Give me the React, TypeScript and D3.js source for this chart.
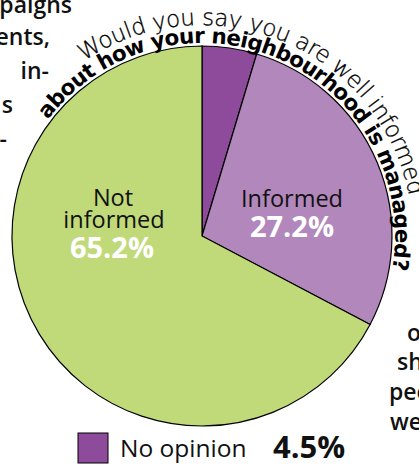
import React from "react";
import * as d3 from "d3";

const categories = ["No opinion", "Informed", "Not informed"];
const values = [4.5, 27.2, 65.2];
const colors = ["#8e4a9b", "#b187bc", "#c0da7a"];
const titleLine1 = "Would you say you are well informed";
const titleLine2 = "about how your neighbourhood is managed?";
const leftFragments = ["paigns", "ents,", "in-", "s", "-"];
const rightFragments = ["o", "sh", "peo", "wer"];

const W = 419;
const H = 466;
const cx = 202;
const cy = 236;
const R = 190;

function arcPath(r: number, a0: number, a1: number) {
  const rad = (d: number) => (d * Math.PI) / 180;
  const x0 = cx + r * Math.sin(rad(a0));
  const y0 = cy - r * Math.cos(rad(a0));
  const x1 = cx + r * Math.sin(rad(a1));
  const y1 = cy - r * Math.cos(rad(a1));
  const large = a1 - a0 > 180 ? 1 : 0;
  return `M${x0},${y0} A${r},${r} 0 ${large} 1 ${x1},${y1}`;
}

export default function App() {
  const pie = d3.pie<number>().sort(null).value((d) => d);
  const arcs = pie(values);
  const arc = d3.arc<d3.PieArcDatum<number>>().innerRadius(0).outerRadius(R);

  const leftEnds = [72, 50, 49, 13, 7];
  const leftBase = [13, 45, 79, 113, 147];
  const rightStarts = [407, 397, 389, 390];
  const rightBase = [341, 370, 400, 430];

  const bR = 193, bA0 = -53, bA1 = 100;
  const tR = 211, tA0 = -34, tA1 = 79;
  const bLen = (bR * (bA1 - bA0) * Math.PI) / 180;
  const tLen = (tR * (tA1 - tA0) * Math.PI) / 180;

  return (
    <svg
      width={W}
      height={H}
      style={{ position: "absolute", left: 0, top: 0, background: "#fff" }}
      fontFamily="'Open Sans', sans-serif"
    >
      <defs>
        <path id="bArc" d={arcPath(bR, bA0, bA1 + 20)} />
        <path id="tArc" d={arcPath(tR, tA0, tA1 + 20)} />
      </defs>
      {leftFragments.map((t, i) => (
        <text key={"l" + i} x={leftEnds[i]} y={leftBase[i]} textAnchor="end" fontSize={23} fontWeight={600} fill="#111">
          {t}
        </text>
      ))}
      {rightFragments.map((t, i) => (
        <text key={"r" + i} x={rightStarts[i]} y={rightBase[i]} fontSize={23} fontWeight={600} fill="#111">
          {t}
        </text>
      ))}
      <g transform={`translate(${cx},${cy})`}>
        {arcs.map((a, i) => (
          <path key={i} d={arc(a) || ""} fill={colors[i]} stroke="#000" strokeWidth={1.2} />
        ))}
      </g>
      <text fontFamily="'DejaVu Sans', sans-serif" fontSize={23} fontWeight={200} fill="#000" stroke="#000" strokeWidth={0.3}>
        <textPath href="#tArc" textLength={tLen} lengthAdjust="spacing">
          {titleLine1}
        </textPath>
      </text>
      <text fontFamily="'DejaVu Sans', sans-serif" fontSize={21.5} fontWeight={700} fill="#000">
        <textPath href="#bArc" textLength={bLen} lengthAdjust="spacing">
          {titleLine2}
        </textPath>
      </text>
      <g fontSize={23.5} fill="#111" textAnchor="middle">
        <text x={113} y={206}>Not</text>
        <text x={114} y={228}>informed</text>
        <text x={292} y={207}>Informed</text>
      </g>
      <g fontSize={29} fontWeight={700} fill="#fff" textAnchor="middle">
        <text x={112} y={258}>{values[2].toFixed(1) + "%"}</text>
        <text x={292} y={237}>{values[1].toFixed(1) + "%"}</text>
      </g>
      <rect x={78} y={433} width={30} height={30} fill={colors[0]} stroke="#000" strokeWidth={1} />
      <text x={120} y={457} fontSize={24.5} fill="#111">{categories[0]}</text>
      <text x={273} y={458} fontSize={31} fontWeight={700} fill="#111">{values[0].toFixed(1) + "%"}</text>
    </svg>
  );
}
